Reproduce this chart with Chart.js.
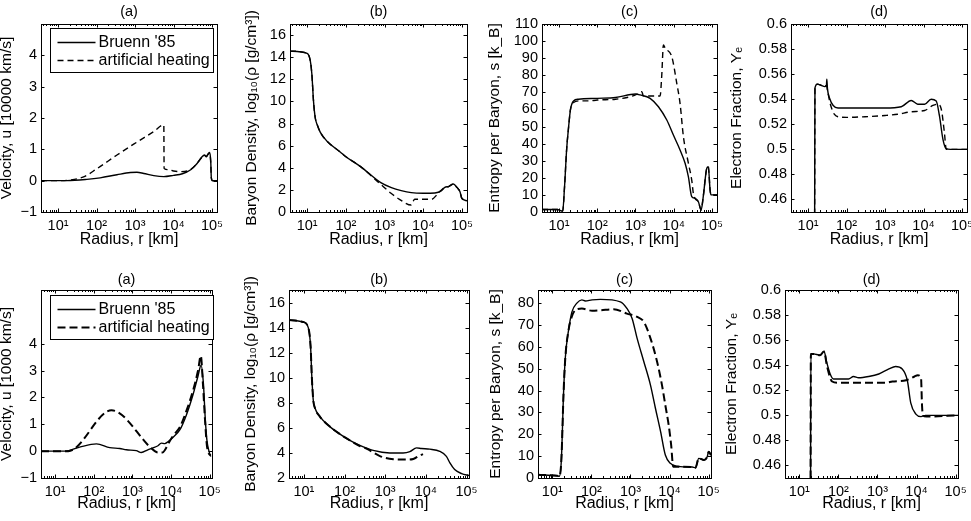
<!DOCTYPE html>
<html>
<head>
<meta charset="utf-8">
<script src="https://cdn.jsdelivr.net/npm/chart.js@4.4.1/dist/chart.umd.min.js"></script>
<style>
html, body { margin: 0; padding: 0; background: #fff; overflow: hidden; }
body { width: 971px; height: 521px; position: relative; }
canvas { position: absolute; }
</style>
</head>
<body>
<script>
// ---- data (radius in km) ----
const xTickValues = [10, 100, 1000, 10000, 100000];
const xTickLabels = ['10\u00B9', '10\u00B2', '10\u00B3', '10\u2074', '10\u2075'];

const velTicks = [-1, 0, 1, 2, 3, 4];
const velTickLabels = ['\u22121', '0', '1', '2', '3', '4'];
const rhoTopTicks = [0, 2, 4, 6, 8, 10, 12, 14, 16];
const rhoBotTicks = [2, 4, 6, 8, 10, 12, 14, 16];
const entTopTicks = [0, 10, 20, 30, 40, 50, 60, 70, 80, 90, 100, 110];
const entBotTicks = [0, 10, 20, 30, 40, 50, 60, 70, 80];
const yeTicks = [0.46, 0.48, 0.5, 0.52, 0.54, 0.56, 0.58, 0.6];
const yeTickLabels = ['0.46', '0.48', '0.5', '0.52', '0.54', '0.56', '0.58', '0.6'];

const seriesNames = ["Bruenn '85", 'artificial heating'];

// top row (a) velocity [10000 km/s]
const topVelR = [3.6, 10, 17, 56, 124, 340, 757, 1120, 1690, 3080, 5600, 1e4, 1.7e4, 2.8e4, 4.1e4, 5.4e4, 6.4e4, 7.1e4, 7.9e4, 8.7e4, 9.3e4, 9.6e4, 1.04e5, 1.35e5];
const topVelBruenn = [0, 0, 0, 0.04, 0.09, 0.19, 0.26, 0.27, 0.23, 0.16, 0.13, 0.17, 0.22, 0.35, 0.55, 0.75, 0.82, 0.76, 0.85, 0.9, 0.6, 0.1, 0, 0];
const topVelHeatR = [3.6, 10, 20, 46, 102, 340, 1120, 3080, 5600, 5700, 7600, 1e4, 1.5e4, 2.3e4, 2.8e4, 4.1e4, 5.4e4, 6.4e4, 7.1e4, 7.9e4, 8.7e4, 9.3e4, 9.6e4, 1.04e5, 1.35e5];
const topVelHeat = [0, 0, 0.02, 0.12, 0.38, 0.82, 1.23, 1.57, 1.78, 0.39, 0.35, 0.31, 0.29, 0.31, 0.36, 0.55, 0.74, 0.8, 0.77, 0.84, 0.88, 0.55, 0.1, 0, 0];

// top row (b) log10 density
const topRhoR = [3.6, 10, 12, 13.2, 14.6, 16.2, 18.6, 21.9, 32.6, 72.7, 100, 240, 800, 1500, 2690, 4900, 1e4, 2e4, 2.97e4, 3.6e4, 4.5e4, 6e4, 7.5e4, 8.9e4, 9.9e4, 1.35e5];
const topRhoBruenn = [14.55, 14.35, 13.7, 12.5, 10, 8.5, 7.8, 7.2, 6.4, 5.4, 5.0, 4.1, 2.65, 2.2, 1.93, 1.75, 1.7, 1.72, 1.93, 2.23, 2.3, 2.53, 2.2, 1.84, 1.24, 1.02];
const topRhoHeatR = [3.6, 10, 12, 13.2, 14.6, 16.2, 18.6, 21.9, 32.6, 72.7, 100, 240, 800, 1470, 2430, 4900, 5970, 1.63e4, 2.44e4, 3.3e4, 4.5e4, 6e4, 7.5e4, 8.9e4, 9.9e4, 1.35e5];
const topRhoHeat = [14.55, 14.35, 13.7, 12.5, 10, 8.5, 7.8, 7.2, 6.4, 5.4, 5.0, 4.1, 2.5, 1.69, 1.15, 0.63, 1.15, 1.15, 1.69, 2.14, 2.3, 2.53, 2.2, 1.84, 1.24, 1.02];

// top row (c) entropy
const topEntR = [3.6, 9, 12.5, 14, 15.9, 17.9, 20, 24, 32.5, 100, 300, 1000, 1320, 2410, 3980, 6580, 9780, 1.46e4, 1.98e4, 2.41e4, 2.95e4, 3.6e4, 4.4e4, 5.2e4, 5.9e4, 7.3e4, 8e4, 8.9e4, 9.4e4, 1.35e5];
const topEntBruenn = [1.5, 1.5, 0.5, 15, 37, 50, 60, 65, 66, 66.5, 67, 69, 68.5, 66.5, 61.6, 53.8, 45, 36.3, 28.5, 20.7, 9, 8, 6, 1.2, 9, 25.6, 26.5, 12.9, 10, 10];
const topEntHeatR = [3.6, 9, 12.5, 14, 15.9, 17.9, 20, 24, 32.5, 60, 100, 300, 600, 1000, 1466, 1600, 2410, 4400, 4860, 5370, 5970, 8890, 1.2e4, 1.46e4, 1.79e4, 2.41e4, 2.95e4, 3.25e4, 3.6e4, 4.4e4, 5.2e4, 5.9e4, 7.3e4, 8e4, 8.9e4, 9.4e4, 1.35e5];
const topEntHeat = [1.5, 1.5, 0.5, 15, 37, 50, 60, 64, 65, 65, 65.5, 66, 67, 68.5, 70.4, 68, 67.9, 67.9, 80, 97.7, 95.8, 90.9, 75.3, 63.6, 44, 28.6, 18.7, 10.9, 8, 6, 1.2, 9, 25.6, 26.5, 12.9, 10, 10];

// top row (d) electron fraction
const topYeR = [14.8, 15.1, 17.5, 22, 27, 30, 30.7, 32, 36, 45, 60, 1000, 2640, 4800, 7100, 1.07e4, 1.58e4, 2.14e4, 2.6e4, 3.2e4, 3.9e4, 5e4, 1.35e5];
const topYeBruenn = [0.44, 0.549, 0.552, 0.551, 0.55, 0.551, 0.556, 0.548, 0.541, 0.535, 0.533, 0.533, 0.534, 0.539, 0.536, 0.536, 0.54, 0.5386, 0.5266, 0.508, 0.5005, 0.5, 0.5];
const topYeHeatR = [14.8, 15.1, 17.5, 22, 27, 30, 32, 38, 48, 60, 100, 300, 1000, 2140, 4800, 1.07e4, 1.75e4, 2.35e4, 2.9e4, 3.5e4, 3.9e4, 5e4, 1.35e5];
const topYeHeat = [0.44, 0.549, 0.552, 0.551, 0.55, 0.551, 0.547, 0.536, 0.528, 0.526, 0.5255, 0.526, 0.527, 0.528, 0.53, 0.531, 0.535, 0.536, 0.532, 0.513, 0.5, 0.5, 0.5];

// bottom row (a) velocity [1000 km/s]
const botVelR = [4.3, 17.8, 43, 117, 259, 470, 700, 1260, 1700, 2500, 3400, 4600, 5600, 6900, 8300, 1.1e4, 1.7e4, 2.5e4, 3.7e4, 5e4, 6e4, 6.9e4, 7.7e4, 8.5e4, 9.6e4, 1.07e5];
const botVelBruenn = [0, 0, 0.15, 0.27, 0.13, 0.1, 0.05, 0.02, -0.05, 0.05, 0.12, 0.2, 0.3, 0.28, 0.35, 0.5, 0.8, 1.35, 2.1, 2.8, 3.2, 2.5, 1.2, 0.4, 0, -0.2];
const botVelHeatR = [4.3, 21.8, 288, 3800, 4600, 6000, 7000, 8300, 1.1e4, 1.7e4, 2.5e4, 3.7e4, 5e4, 5.9e4, 6.7e4, 7.7e4, 8.5e4, 9.6e4, 1.07e5];
const botVelHeat = [0, 0, 1.52, 0, -0.05, -0.05, 0.05, 0.25, 0.55, 0.9, 1.5, 2.25, 3.0, 3.55, 2.5, 1.0, 0.2, -0.1, -0.15];

// bottom row (b) log10 density
const botRhoR = [4.3, 9.6, 12.8, 14.6, 15.7, 17, 18.6, 24.7, 43.5, 77, 135, 238, 505, 1290, 2750, 4040, 5900, 7800, 1.25e4, 2.2e4, 3.2e4, 3.9e4, 5.1e4, 7.6e4, 1.15e5];
const botRhoBruenn = [14.6, 14.45, 14.0, 12.5, 10, 8.2, 7.6, 6.9, 6.1, 5.5, 5.0, 4.6, 4.2, 4.0, 4.0, 4.1, 4.4, 4.35, 4.3, 4.13, 3.73, 3.2, 2.67, 2.35, 2.2];
const botRhoHeatR = [4.3, 9.6, 12.8, 14.6, 15.7, 17, 18.6, 24.7, 43.5, 77, 135, 238, 345, 740, 1580, 3330, 4900, 7100, 8500];
const botRhoHeat = [14.6, 14.45, 14.0, 12.5, 10, 8.2, 7.6, 6.9, 6.1, 5.5, 5.0, 4.55, 4.35, 3.75, 3.5, 3.47, 3.52, 3.8, 3.9];

// bottom row (c) entropy
const botEntR = [4.3, 13.2, 15.1, 17, 19.5, 21.5, 26.2, 31.8, 42.5, 57, 70, 104, 170, 550, 810, 1100, 1480, 2200, 3250, 4350, 5900, 7800, 1.05e4, 1.9e4, 3.8e4, 4.6e4, 5.6e4, 7.6e4, 9.2e4, 1e5, 1.15e5];
const botEntBruenn = [1.5, 1.0, 0.8, 8, 40, 55, 68, 76, 80, 81.5, 81, 81.5, 81.7, 80.6, 77.6, 73, 63.9, 53.2, 42.5, 31.9, 21.2, 10.5, 6.7, 5.2, 5, 4.7, 9, 8.2, 9.7, 12, 10.5];
const botEntHeatR = [4.3, 13.2, 15.1, 17, 19.5, 21.5, 26.2, 31.8, 40, 57, 104, 170, 370, 810, 1480, 2200, 3250, 4800, 6400, 7800, 9500, 1.1e4, 1.24e4, 1.9e4, 3.8e4, 4.6e4, 5.6e4, 7.6e4, 9.2e4, 1e5, 1.15e5];
const botEntHeat = [1.5, 1.0, 0.8, 8, 40, 55, 68, 74, 77, 77.5, 76.5, 76.7, 77.2, 75.2, 73.7, 71.4, 63.9, 53.2, 42.5, 33.3, 24.2, 15, 5.2, 5.2, 5, 4.7, 9, 8.2, 9.7, 12, 10.5];

// bottom row (d) electron fraction
const botYeR = [19.4, 19.7, 22.9, 34, 43, 50.5, 61.6, 74.8, 182, 243, 330, 595, 1080, 1960, 2900, 4300, 5800, 7100, 9600, 1.3e4, 1.7e4, 1.15e5];
const botYeBruenn = [0.44, 0.549, 0.549, 0.548, 0.551, 0.542, 0.533, 0.529, 0.529, 0.531, 0.53, 0.531, 0.533, 0.537, 0.539, 0.537, 0.528, 0.51, 0.501, 0.499, 0.5, 0.5];
const botYeHeatR = [19.4, 19.7, 22.9, 34, 43, 50.5, 61.6, 69, 100, 300, 1000, 1660, 2400, 5400, 8900, 1.07e4, 1.3e4, 1.38e4, 1.45e4, 1.8e4, 1.15e5];
const botYeHeat = [0.44, 0.549, 0.549, 0.548, 0.551, 0.54, 0.53, 0.527, 0.526, 0.526, 0.526, 0.526, 0.527, 0.528, 0.531, 0.532, 0.53, 0.508, 0.5, 0.499, 0.5];

// ---- layout / style ----
const FONT = '"Liberation Sans", Arial, Helvetica, sans-serif';
const rows = {
    top: { T: 24, B: 212, xmin: 3.6, xmax: 1.35e5, titlePad: 3, xTitlePad: 3.2, dashW: 1.4, dash: [6, 4] },
    bot: { T: 290, B: 478, xmin: 4.3, xmax: 1.15e5, titlePad: 5.6, xTitlePad: 5.2, dashW: 2, dash: [8, 4] }
};
const HTOP = 24, HX = 40, PR = 16;

function pts(rs, vs) { return rs.map((r, i) => ({ x: r, y: vs[i] })); }

// MATLAB style box: inward ticks on all four sides, minor log ticks, framed legend
const matlabBox = {
    id: 'matlabBox',
    afterDraw(chart, args, opts) {
        const { ctx, chartArea: a, scales } = chart;
        const xs = scales.x, ys = scales.y;
        ctx.save();
        ctx.strokeStyle = '#000';
        ctx.lineWidth = 1;
        ctx.setLineDash([]);
        ctx.beginPath();
        const lo = Math.floor(Math.log10(xs.min)), hi = Math.ceil(Math.log10(xs.max));
        for (let d = lo; d <= hi; d++) {
            for (let k = 1; k < 10; k++) {
                const v = k * Math.pow(10, d);
                if (v <= xs.min || v >= xs.max) continue;
                const px = Math.round(xs.getPixelForValue(v)) + 0.5;
                const len = k === 1 ? 3.5 : 2;
                ctx.moveTo(px, a.bottom); ctx.lineTo(px, a.bottom - len);
                ctx.moveTo(px, a.top); ctx.lineTo(px, a.top + len);
            }
        }
        ys.ticks.forEach(t => {
            const py = Math.round(ys.getPixelForValue(t.value)) + 0.5;
            ctx.moveTo(a.left, py); ctx.lineTo(a.left + 3.5, py);
            ctx.moveTo(a.right, py); ctx.lineTo(a.right - 3.5, py);
        });
        ctx.stroke();
        ctx.strokeRect(Math.round(a.left) + 0.5, Math.round(a.top) + 0.5,
            Math.round(a.right - a.left), Math.round(a.bottom - a.top));

        if (opts.legend) {
            ctx.font = '16px ' + FONT;
            const ds = chart.data.datasets;
            const tw = Math.max(...ds.map(d => ctx.measureText(d.label).width));
            const bx = Math.round(a.left) + 9.5, by = Math.round(a.top) + opts.legendTop + 0.5;
            const bw = Math.round(48 + tw + 4), bh = 44;
            ctx.fillStyle = '#fff';
            ctx.fillRect(bx, by, bw, bh);
            ctx.strokeRect(bx, by, bw, bh);
            ds.forEach((d, i) => {
                const cy = by + 14 + i * 18;
                ctx.lineWidth = d.borderWidth;
                ctx.setLineDash(d.borderDash || []);
                ctx.beginPath();
                ctx.moveTo(bx + 7, cy); ctx.lineTo(bx + 45, cy);
                ctx.stroke();
                ctx.setLineDash([]);
                ctx.fillStyle = '#000';
                ctx.textBaseline = 'middle';
                ctx.textAlign = 'left';
                ctx.fillText(d.label, bx + 48, cy);
            });
        }
        ctx.restore();
    }
};

function makePanel(p) {
    const row = p.row;
    const left = Math.round(p.yTitleX - 9.5);
    const L = Math.round(p.L);
    const wy = L - left;
    const w = wy + Math.round(p.R - p.L) + PR;
    const h = HTOP + (row.B - row.T) + HX;

    const canvas = document.createElement('canvas');
    canvas.width = w;
    canvas.height = h;
    canvas.style.left = left + 'px';
    canvas.style.top = (row.T - HTOP) + 'px';
    document.body.appendChild(canvas);

    const line = (label, r, v, dashed) => ({
        label: label,
        data: pts(r, v),
        borderColor: '#000',
        borderWidth: dashed ? row.dashW : 1.4,
        borderDash: dashed ? row.dash : [],
        borderJoinStyle: 'round',
        pointRadius: 0,
        fill: false,
        cubicInterpolationMode: 'monotone'
    });

    new Chart(canvas, {
        type: 'line',
        data: {
            datasets: [
                line(seriesNames[0], p.solid[0], p.solid[1], false),
                line(seriesNames[1], p.dashed[0], p.dashed[1], true)
            ]
        },
        plugins: [matlabBox],
        options: {
            responsive: false,
            animation: false,
            events: [],
            layout: { padding: { left: 0, top: 0, right: PR, bottom: 0 } },
            plugins: {
                legend: { display: false },
                tooltip: { enabled: false },
                matlabBox: { legend: !!p.legend, legendTop: p.legendTop || 4 }
            },
            scales: {
                x: {
                    type: 'logarithmic', position: 'bottom',
                    min: row.xmin, max: row.xmax,
                    afterBuildTicks: s => { s.ticks = xTickValues.map(v => ({ value: v })); },
                    afterFit: s => { s.height = HX; },
                    grid: { display: false, drawTicks: false },
                    border: { display: false },
                    ticks: {
                        autoSkip: false, maxRotation: 0, minRotation: 0, padding: 5.5,
                        color: '#000', font: { family: FONT, size: 14.5 },
                        callback: (v, i) => xTickLabels[i]
                    },
                    title: {
                        display: true, text: 'Radius, r [km]', color: '#000',
                        font: { family: FONT, size: 16 },
                        padding: { top: 0, bottom: row.xTitlePad }
                    }
                },
                top: {
                    type: 'linear', position: 'top', display: true,
                    afterFit: s => { s.height = HTOP; },
                    grid: { display: false, drawTicks: false },
                    border: { display: false },
                    ticks: { display: false },
                    title: {
                        display: true, text: p.title, color: '#000',
                        font: { family: FONT, size: 14.5 },
                        padding: { top: row.titlePad, bottom: 0 }
                    }
                },
                y: {
                    type: 'linear', position: 'left',
                    min: p.yMin, max: p.yMax,
                    afterBuildTicks: s => { s.ticks = p.yTicks.map(v => ({ value: v })); },
                    afterFit: s => { s.width = wy; },
                    grid: { display: false, drawTicks: false },
                    border: { display: false },
                    ticks: {
                        autoSkip: false, padding: 4, color: '#000', font: { family: FONT, size: 14.5 },
                        callback: (v, i) => p.yTickLabels ? p.yTickLabels[i] : String(v)
                    },
                    title: {
                        display: true, text: p.yLabel, color: '#000',
                        font: { family: FONT, size: 15.5 },
                        padding: { top: 0, bottom: 0 }
                    }
                }
            }
        }
    });
}

const rhoLabel = 'Baryon Density, log\u2081\u2080(\u03C1 [g/cm\u00B3])';
const entLabel = 'Entropy per Baryon, s [k_B]';
const yeLabel = 'Electron Fraction, Y\u2091';

[
    { row: rows.top, L: 41, R: 216.5, yTitleX: 6, title: '(a)', yLabel: 'Velocity, u [10000 km/s]',
      yMin: -1, yMax: 5, yTicks: velTicks, yTickLabels: velTickLabels,
      solid: [topVelR, topVelBruenn], dashed: [topVelHeatR, topVelHeat], legend: true, legendTop: 4 },
    { row: rows.top, L: 290, R: 467, yTitleX: 251, title: '(b)', yLabel: rhoLabel,
      yMin: 0, yMax: 17, yTicks: rhoTopTicks,
      solid: [topRhoR, topRhoBruenn], dashed: [topRhoHeatR, topRhoHeat] },
    { row: rows.top, L: 541.7, R: 716.7, yTitleX: 494, title: '(c)', yLabel: entLabel,
      yMin: 0, yMax: 110, yTicks: entTopTicks,
      solid: [topEntR, topEntBruenn], dashed: [topEntHeatR, topEntHeat] },
    { row: rows.top, L: 790.7, R: 966.7, yTitleX: 736, title: '(d)', yLabel: yeLabel,
      yMin: 0.45, yMax: 0.6, yTicks: yeTicks, yTickLabels: yeTickLabels,
      solid: [topYeR, topYeBruenn], dashed: [topYeHeatR, topYeHeat] },
    { row: rows.bot, L: 41, R: 212.3, yTitleX: 6, title: '(a)', yLabel: 'Velocity, u [1000 km/s]',
      yMin: -1, yMax: 6, yTicks: velTicks, yTickLabels: velTickLabels,
      solid: [botVelR, botVelBruenn], dashed: [botVelHeatR, botVelHeat], legend: true, legendTop: 5 },
    { row: rows.bot, L: 289.3, R: 469.3, yTitleX: 250, title: '(b)', yLabel: rhoLabel,
      yMin: 2, yMax: 17, yTicks: rhoBotTicks,
      solid: [botRhoR, botRhoBruenn], dashed: [botRhoHeatR, botRhoHeat] },
    { row: rows.bot, L: 537.7, R: 711, yTitleX: 495, title: '(c)', yLabel: entLabel,
      yMin: 0, yMax: 86, yTicks: entBotTicks,
      solid: [botEntR, botEntBruenn], dashed: [botEntHeatR, botEntHeat] },
    { row: rows.bot, L: 785, R: 958.3, yTitleX: 731, title: '(d)', yLabel: yeLabel,
      yMin: 0.45, yMax: 0.6, yTicks: yeTicks, yTickLabels: yeTickLabels,
      solid: [botYeR, botYeBruenn], dashed: [botYeHeatR, botYeHeat] }
].forEach(makePanel);
</script>
</body>
</html>
